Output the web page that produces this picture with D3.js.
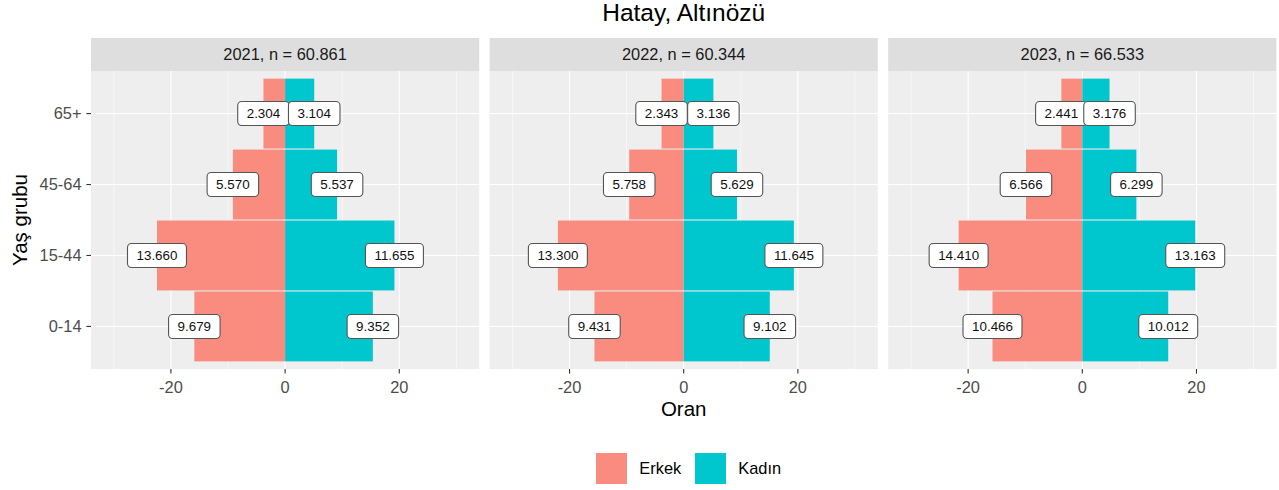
<!DOCTYPE html>
<html><head><meta charset="utf-8">
<script src="https://cdn.jsdelivr.net/npm/d3@7"></script>
<style>body{margin:0;background:#fff} text{font-family:"Liberation Sans",Arial,Helvetica,sans-serif}</style>
</head><body><svg id="c" width="1279" height="490"></svg>
<script>
// ---- data ----
const years = ["2021", "2022", "2023"];
const totals = [60861, 60344, 66533];
const ageGroups = ["65+", "45-64", "15-44", "0-14"];
const sexes = ["Erkek", "Kadın"];
// counts (labels), order follows ageGroups
const erkekCount = [[2304, 5570, 13660, 9679], [2343, 5758, 13300, 9431], [2441, 6566, 14410, 10466]];
const kadinCount = [[3104, 5537, 11655, 9352], [3136, 5629, 11645, 9102], [3176, 6299, 13163, 10012]];
// shares in percent (bar lengths), order follows ageGroups
const erkekPct = [[3.79, 9.15, 22.44, 15.90], [3.88, 9.54, 22.04, 15.63], [3.67, 9.87, 21.66, 15.73]];
const kadinPct = [[5.10, 9.10, 19.15, 15.37], [5.20, 9.33, 19.30, 15.08], [4.77, 9.47, 19.78, 15.05]];
const xTicks = [-20, 0, 20];
const xMinorTicks = [-30, -10, 10, 30];
const colors = ["#FA8B7F", "#00C7CE"];

// ---- layout ----
const svg = d3.select("#c");
const fmt = d3.formatLocale({decimal: ",", thousands: ".", grouping: [3], currency: ["", ""]}).format(",d");
const panelLeft = 91, panelW = 388.2, gap = 10.4;
const stripTop = 38, panelTop = 71, panelBottom = 369;
const x = d3.scaleLinear().domain([-34, 34]).range([0, panelW]);
const y = d3.scalePoint().domain(ageGroups).range([panelTop, panelBottom]).padding(0.6);
const bandH = y.step() * 0.985;

svg.append("text").attr("x", (panelLeft + panelLeft + 3 * panelW + 2 * gap) / 2).attr("y", 21)
  .attr("text-anchor", "middle").attr("font-size", 24.5).attr("fill", "#000").text("Hatay, Altınözü");

years.forEach((yr, i) => {
  const g = svg.append("g").attr("transform", `translate(${panelLeft + i * (panelW + gap)},0)`);
  // strip
  g.append("rect").attr("x", 0).attr("y", stripTop).attr("width", panelW).attr("height", panelTop - stripTop).attr("fill", "#DEDEDE");
  g.append("text").attr("x", panelW / 2).attr("y", (stripTop + panelTop) / 2).attr("dy", "0.36em")
    .attr("text-anchor", "middle").attr("font-size", 16.4).attr("fill", "#1A1A1A")
    .text(`${yr}, n = ${fmt(totals[i])}`);
  // panel
  g.append("rect").attr("x", 0).attr("y", panelTop).attr("width", panelW).attr("height", panelBottom - panelTop).attr("fill", "#EEEEEE");
  g.selectAll(".minor").data(xMinorTicks).join("line")
    .attr("x1", d => x(d)).attr("x2", d => x(d)).attr("y1", panelTop).attr("y2", panelBottom)
    .attr("stroke", "#fff").attr("stroke-width", 0.55);
  g.selectAll(".major").data(xTicks).join("line")
    .attr("x1", d => x(d)).attr("x2", d => x(d)).attr("y1", panelTop).attr("y2", panelBottom)
    .attr("stroke", "#fff").attr("stroke-width", 1.1);
  g.selectAll(".hgrid").data(ageGroups).join("line")
    .attr("x1", 0).attr("x2", panelW).attr("y1", d => y(d)).attr("y2", d => y(d))
    .attr("stroke", "#fff").attr("stroke-width", 1.1);
  // bars
  const rows = [];
  ageGroups.forEach((a, j) => {
    rows.push({age: a, sex: 0, pct: erkekPct[i][j], n: erkekCount[i][j]});
    rows.push({age: a, sex: 1, pct: kadinPct[i][j], n: kadinCount[i][j]});
  });
  g.selectAll(".bar").data(rows).join("rect")
    .attr("x", d => d.sex === 0 ? x(-d.pct) : x(0))
    .attr("width", d => Math.abs(x(d.pct) - x(0)))
    .attr("y", d => y(d.age) - bandH / 2).attr("height", bandH)
    .attr("fill", d => colors[d.sex]);
  // labels
  rows.forEach(d => {
    const cx = d.sex === 0 ? x(-d.pct) : x(d.pct);
    const cy = y(d.age);
    const lg = g.append("g");
    const rect = lg.append("rect");
    const t = lg.append("text").attr("x", cx).attr("y", cy).attr("dy", "0.36em")
      .attr("text-anchor", "middle").attr("font-size", 13.4).attr("fill", "#111").text(fmt(d.n));
    const w = t.node().getComputedTextLength() + 18;
    rect.attr("x", cx - w / 2).attr("y", cy - 12).attr("width", w).attr("height", 24).attr("rx", 4)
      .attr("fill", "#fff").attr("stroke", "#555").attr("stroke-width", 1.1);
  });
  // x axis
  g.selectAll(".xt").data(xTicks).join("line")
    .attr("x1", d => x(d)).attr("x2", d => x(d)).attr("y1", panelBottom).attr("y2", panelBottom + 4.6)
    .attr("stroke", "#333").attr("stroke-width", 1.1);
  g.selectAll(".xl").data(xTicks).join("text")
    .attr("x", d => x(d)).attr("y", 393).attr("text-anchor", "middle")
    .attr("font-size", 16.4).attr("fill", "#4D4D4D").text(d => d);
  if (i === 0) {
    g.selectAll(".yt").data(ageGroups).join("line")
      .attr("x1", -4.6).attr("x2", 0).attr("y1", d => y(d)).attr("y2", d => y(d))
      .attr("stroke", "#333").attr("stroke-width", 1.1);
    g.selectAll(".yl").data(ageGroups).join("text")
      .attr("x", -9.5).attr("y", d => y(d)).attr("dy", "0.36em").attr("text-anchor", "end")
      .attr("font-size", 16.4).attr("fill", "#4D4D4D").text(d => d);
  }
});

// axis titles
svg.append("text").attr("x", (panelLeft + panelLeft + 3 * panelW + 2 * gap) / 2).attr("y", 416)
  .attr("text-anchor", "middle").attr("font-size", 20.5).attr("fill", "#000").text("Oran");
svg.append("text").attr("transform", `translate(27,${(panelTop + panelBottom) / 2}) rotate(-90)`)
  .attr("text-anchor", "middle").attr("font-size", 20.5).attr("fill", "#000").text("Yaş grubu");

// legend
const legX = [596, 695];
const lg = svg.append("g");
lg.selectAll("rect").data(sexes).join("rect")
  .attr("x", (d, k) => legX[k]).attr("y", 453).attr("width", 31).attr("height", 31)
  .attr("fill", (d, k) => colors[k]);
lg.selectAll("text").data(sexes).join("text")
  .attr("x", (d, k) => legX[k] + 43.3).attr("y", 468.5).attr("dy", "0.36em")
  .attr("font-size", 16.4).attr("fill", "#000").text(d => d);
</script></body></html>
